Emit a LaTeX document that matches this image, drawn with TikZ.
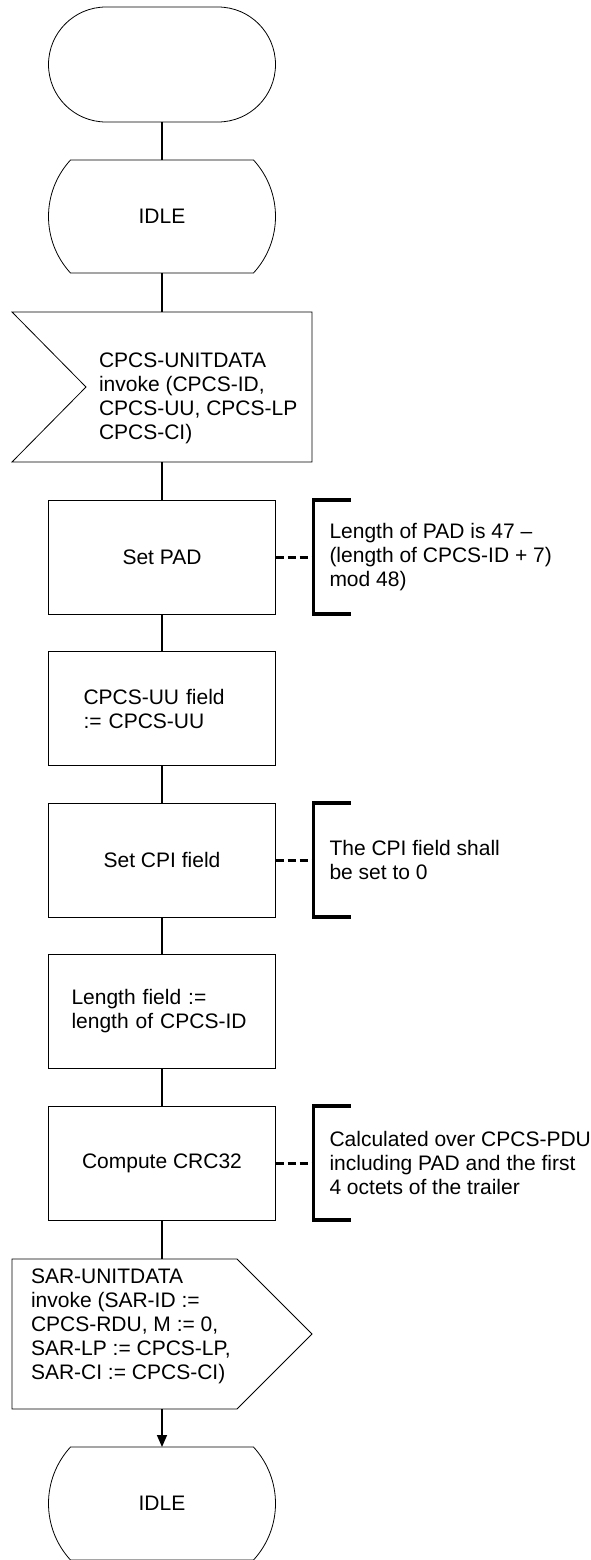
\documentclass[tikz,border=0pt]{standalone}
\usepackage{fontspec}
\setmainfont{Liberation Sans}
\usetikzlibrary{shapes.misc,arrows.meta}

\begin{document}
\begin{tikzpicture}[x=1pt,y=1pt,
  every node/.style={font=\fontsize{21}{24}\selectfont, inner sep=0pt, outer sep=0pt},
  taskbox/.style={draw, line width=0.8pt, minimum width=227pt, minimum height=114pt},
  frame/.style={minimum width=#1, minimum height=150pt},
  statebox/.style={minimum width=227pt, minimum height=113pt},
  outline/.style={line width=0.8pt},
  flow/.style={line width=1.6pt},
  bracket/.style={line width=3.5pt},
  dotlink/.style={line width=3pt, dash pattern=on 8pt off 4pt},
  note/.style={anchor=west, align=left}]
\useasboundingbox (0,0) rectangle (590,-1560);
\clip (0,0) rectangle (590,-1560);

% start and first state
\node[draw, rounded rectangle, line width=0.8pt, minimum width=227pt, minimum height=115pt] (start) at (162,-64.5) {};
\node[statebox] (idle1) at (162,-216.5) {IDLE};
\draw[outline] ([xshift=22pt]idle1.north west) -- ([xshift=-22pt]idle1.north east)
  arc[start angle=42.55, end angle=-42.55, radius=83.55pt] -- ([xshift=22pt]idle1.south west)
  arc[start angle=222.55, end angle=137.45, radius=83.55pt] -- cycle;

% input signal
\node[frame=300pt] (insig) at (162,-387) {};
\draw[outline] (insig.north west) -- (insig.north east) -- (insig.south east) -- (insig.south west)
  -- ([xshift=74pt]insig.west) -- cycle;
\node[note] (insig text) at ([xshift=87pt,yshift=-11pt]insig.west)
  {CPCS-UNITDATA\\invoke (CPCS-ID,\\CPCS-UU, CPCS-LP\\CPCS-CI)};

% tasks
\node[taskbox] (setpad) at (162,-557) {Set PAD};
\node[taskbox, text width=157pt, align=left] (uufield) at (162,-708.5) {CPCS-UU field\\:= CPCS-UU};
\node[taskbox] (setcpi) at (162,-860) {Set CPI field};
\node[taskbox, text width=181pt, align=left] (lenfield) at (162,-1011.5) {Length field :=\\length of CPCS-ID};
\node[taskbox] (crc) at (162,-1163) {Compute CRC32};

% comments
\coordinate (padmark) at ([xshift=38pt]setpad.east);
\draw[dotlink] (setpad) -- (padmark);
\draw[bracket] ([xshift=75pt]setpad.north east) -| ([xshift=38pt]setpad.south east) -- ([xshift=75pt]setpad.south east);
\node[note] (padnote) at ([xshift=54pt]setpad.east) {Length of PAD is 47 –\\(length of CPCS-ID + 7)\\mod 48)};

\coordinate (cpimark) at ([xshift=38pt]setcpi.east);
\draw[dotlink] (setcpi) -- (cpimark);
\draw[bracket] ([xshift=75pt]setcpi.north east) -| ([xshift=38pt]setcpi.south east) -- ([xshift=75pt]setcpi.south east);
\node[note] (cpinote) at ([xshift=54pt]setcpi.east) {The CPI field shall\\be set to 0};

\coordinate (crcmark) at ([xshift=38pt]crc.east);
\draw[dotlink] (crc) -- (crcmark);
\draw[bracket] ([xshift=75pt]crc.north east) -| ([xshift=38pt]crc.south east) -- ([xshift=75pt]crc.south east);
\node[note] (crcnote) at ([xshift=54pt]crc.east) {Calculated over CPCS-PDU\\including PAD and the first\\4 octets of the trailer};

% output signal and last state
\node[frame=300pt] (outsig) at (162,-1334) {};
\draw[outline] (outsig.north west) -- ([xshift=-75pt]outsig.north east) -- (outsig.east)
  -- ([xshift=-75pt]outsig.south east) -- (outsig.south west) -- cycle;
\node[note] (outsig text) at ([xshift=19pt,yshift=8pt]outsig.west)
  {SAR-UNITDATA\\invoke (SAR-ID :=\\CPCS-RDU, M := 0,\\SAR-LP := CPCS-LP,\\SAR-CI := CPCS-CI)};

\node[statebox] (idle2) at (162,-1503.5) {IDLE};
\draw[outline] ([xshift=22pt]idle2.north west) -- ([xshift=-22pt]idle2.north east)
  arc[start angle=42.55, end angle=-42.55, radius=83.55pt] -- ([xshift=22pt]idle2.south west)
  arc[start angle=222.55, end angle=137.45, radius=83.55pt] -- cycle;

% connectors
\draw[flow] (start.south) -- (idle1.north);
\draw[flow] (idle1.south) -- (insig.north);
\draw[flow] (insig.south) -- (setpad.north);
\draw[flow] (setpad.south) -- (uufield.north);
\draw[flow] (uufield.south) -- (setcpi.north);
\draw[flow] (setcpi.south) -- (lenfield.north);
\draw[flow] (lenfield.south) -- (crc.north);
\draw[flow] (crc.south) -- (outsig.north);
\draw[flow, -{Triangle[length=12pt, width=10pt]}] (outsig.south) -- (idle2.north);
\end{tikzpicture}
\end{document}
